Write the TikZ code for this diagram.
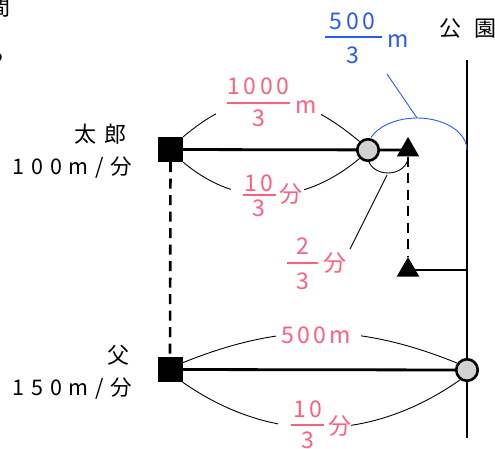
\documentclass[tikz,border=0pt]{standalone}
\usepackage{fontspec}
\setmainfont{Noto Sans CJK JP}
\usetikzlibrary{shapes.geometric}
\definecolor{pk}{RGB}{255,95,128}
\definecolor{bl}{RGB}{40,90,240}
\pgfdeclarelayer{bg}
\pgfsetlayers{bg,main}
\begin{document}
\begin{tikzpicture}[x=1pt,y=-1pt,
  heavy/.style={line width=2.8pt},
  thinarc/.style={line width=0.9pt},
  sqnode/.style={rectangle, fill=black, minimum size=25pt, inner sep=0pt},
  dotnode/.style={circle, fill=gray!35, draw=black, line width=2.6pt, minimum size=21.5pt, inner sep=0pt},
  trinode/.style={regular polygon, regular polygon sides=3, fill=black, minimum size=26pt, inner sep=0pt},
  dashv/.style={line width=2.6pt, dash pattern=on 10pt off 6.5pt},
  pkt/.style={text=pk, inner sep=0pt, font=\fontsize{23}{27}\selectfont\addfontfeature{LetterSpace=15}},
  blt/.style={text=bl, inner sep=0pt, font=\fontsize{23}{27}\selectfont\addfontfeature{LetterSpace=15}},
  bk/.style={text=black, inner sep=0pt, font=\fontsize{21.5}{25}\selectfont\addfontfeature{LetterSpace=31}},
  bkj/.style={text=black, inner sep=0pt, font=\fontsize{22}{26}\selectfont\addfontfeature{LetterSpace=36}},
  bkp/.style={text=black, inner sep=0pt, font=\fontsize{22}{26}\selectfont\addfontfeature{LetterSpace=59}},
  pkbar/.style={draw=pk, line width=1.6pt},
  blbar/.style={draw=bl, line width=1.6pt}]
\useasboundingbox (0,0) rectangle (495,449);

% main shapes
\node[sqnode] (taroSq) at (170.5,149.5) {};
\node[dotnode] (taroC) at (368,150) {};
\node[trinode] (taroT) at (408,150) {};
\node[trinode] (lowT) at (408,270) {};
\node[sqnode] (fatherSq) at (170,369.5) {};
\node[dotnode] (fatherC) at (467,370) {};
\coordinate (parkTop) at (467,60);
\coordinate (parkBot) at (467,438);
\coordinate (parkMid) at (467,270);
\coordinate (blS) at (371,137.5);
\coordinate (blA) at (387,74);
\coordinate (blB) at (417,118);
\coordinate (smS) at (368,157);
\coordinate (smA) at (387,175);
\coordinate (smB) at (350,249);

\begin{pgfonlayer}{bg}
  \draw[heavy] (parkTop) -- (parkBot);
  \draw[heavy] (taroSq.center) -- (taroT.center);
  \draw[heavy] (fatherSq.center) -- (fatherC.center);
  \draw[heavy] (lowT.center) -- (parkMid);
  \draw[dashv] (taroSq.south) -- (fatherSq.north);
  \draw[dashv] (taroT.south) -- (lowT.north);
  \draw[thinarc] (taroSq.north east) to[out=40,in=140,looseness=1.2] (taroC.north west);
  \draw[thinarc] (taroSq.south east) to[out=-40,in=-140,looseness=1.05] (taroC.south west);
  \draw[thinarc] (fatherSq.28) to[out=22,in=158] (fatherC.145);
  \draw[thinarc] (fatherSq.south east) to[out=-35,in=-145] (fatherC.-125);
  \draw[bl, line width=0.9pt] (blS) arc[start angle=-157,end angle=0,x radius=50,y radius=32];
  \draw[bl, line width=0.9pt] (blA) -- (blB);
  \draw[thinarc] (smS) arc[start angle=180,end angle=0,x radius=20,y radius=16];
  \draw[thinarc] (smA) -- (smB);
\end{pgfonlayer}

% gaps in the arcs under the labels
\fill[white] (216,73) rectangle (321,131);
\fill[white] (231,170) rectangle (304,222);
\fill[white] (276,320) rectangle (361,350);
\fill[white] (278,396) rectangle (351,449);

% pink labels
\node[pkt] (tn1) at (258.5,86.5) {1000};
\draw[pkbar] (227,103) -- (290,103);
\node[pkt] (td1) at (258.5,118.5) {3};
\node[pkt] (tm1) at (306,107.5) {m};

\node[pkt] (tn2) at (259,183.5) {10};
\draw[pkbar] (243,195) -- (276,195);
\node[pkt] (td2) at (259,208.5) {3};
\node[pkt] (tf2) at (290.5,194) {分};

\node[pkt] (sn) at (302.5,246.5) {2};
\draw[pkbar] (287,263) -- (318,263);
\node[pkt] (sd) at (302.5,281) {3};
\node[pkt] (sf) at (334.5,263.5) {分};

\node[pkt] (f500) at (316,335) {500m};
\node[pkt] (fn) at (307.5,409.5) {10};
\draw[pkbar] (291,425) -- (324,425);
\node[pkt] (fd) at (307.5,440.5) {3};
\node[pkt] (ff) at (340,426) {分};

% blue label
\node[blt] (bn) at (352.5,21.5) {500};
\draw[blbar] (325,37) -- (382,37);
\node[blt] (bd) at (352.5,55) {3};
\node[blt] (bm) at (398,41.5) {m};

% black labels
\node[bkj, anchor=west] (taroN) at (74,134) {太郎};
\node[bk, anchor=base east] (taroS) at (132,175) {100m/分};
\node[bkj, anchor=west] (fatherN) at (107,355) {父};
\node[bk, anchor=base east] (fatherS) at (132,395) {150m/分};
\node[bkp, anchor=west] (park) at (439,29) {公園};
\node[bkj, anchor=east] (frag1) at (11,8) {間};
\node[bkj, anchor=east] (frag2) at (6,55) {ら};
\end{tikzpicture}
\end{document}
